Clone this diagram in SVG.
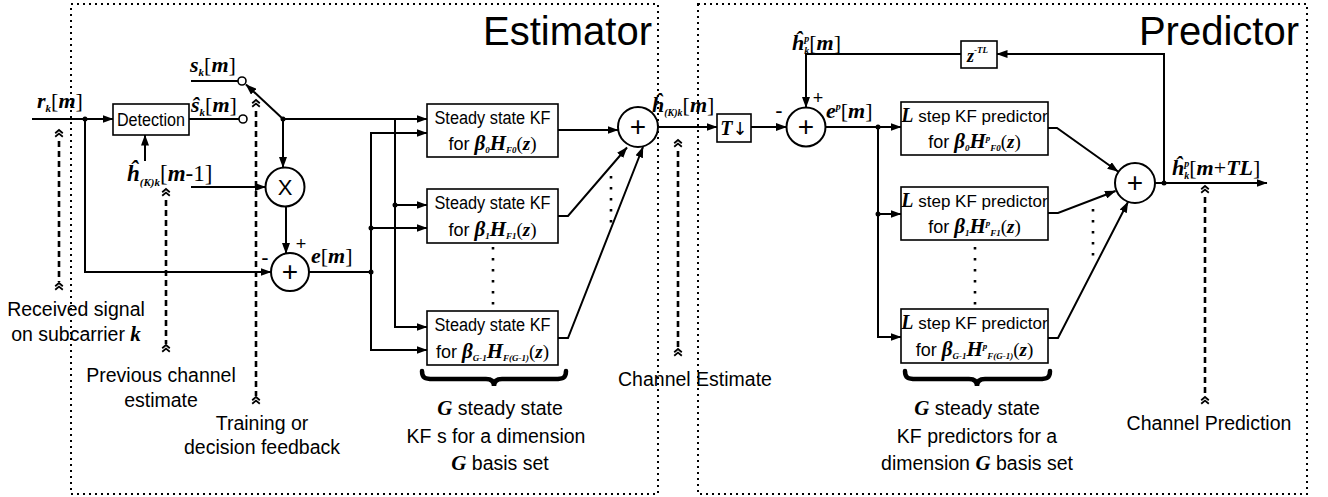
<svg xmlns="http://www.w3.org/2000/svg" xmlns:xlink="http://www.w3.org/1999/xlink" width="1328" height="497" viewBox="0 0 1328 497">
<style>
.frame{fill:none;stroke:#000;stroke-width:2;stroke-dasharray:2 4}
.box{fill:#fff;stroke:#000;stroke-width:1.6}
.ln{fill:none;stroke:#000;stroke-width:2}
.arr{marker-end:url(#ah)}
.dash{fill:none;stroke:#000;stroke-width:2.6;stroke-dasharray:6 4}
.dots{fill:none;stroke:#000;stroke-width:2.6;stroke-dasharray:2.5 8.5}
.chev{fill:none;stroke:#000;stroke-width:1.8}
.jn{fill:#000}
.oc{fill:#fff;stroke:#000;stroke-width:1.6}
.sum{fill:#fff;stroke:#000;stroke-width:2}
.brace{fill:none;stroke:#000;stroke-width:4.5;stroke-linecap:round}
.sans{font-family:"Liberation Sans",Arial,Helvetica,sans-serif;fill:#000}
.m{font-family:"Liberation Serif","Times New Roman",serif;font-style:italic;font-weight:bold;fill:#000}
.r{font-style:normal;font-weight:normal}
.lbl{font-size:19.5px}
.bt{font-size:18px}
.pt{font-size:17px}
</style>
<defs>
<marker id="ah" markerUnits="userSpaceOnUse" markerWidth="11" markerHeight="8" refX="10.5" refY="4" orient="auto">
<path d="M0,0 L11,4 L0,8 z" fill="#000"/>
</marker>
<path id="chev" class="chev" d="M-3.8,3.2 L0,0 L3.8,3.2 M-3.8,6.8 L0,3.6 L3.8,6.8"/>
</defs>

<!-- frames -->
<g id="estimator-frame">
<rect class="frame" x="71" y="4" width="587" height="490"/>
<text class="sans" x="652" y="45" font-size="40" text-anchor="end">Estimator</text>
</g>
<g id="predictor-frame">
<rect class="frame" x="698" y="4" width="609" height="490"/>
<text class="sans" x="1299" y="45" font-size="40" text-anchor="end">Predictor</text>
</g>

<!-- connectors -->
<g id="connectors">
<path class="ln arr" d="M32,119 H113"/>
<path class="ln arr" d="M85,119 V272 H271"/>
<path class="ln" d="M189,119 H239"/>
<path class="ln" d="M191,81 H238"/>
<path class="ln arr" d="M283,119 L246,84.5"/>
<path class="ln arr" d="M283,119 H427"/>
<path class="ln arr" d="M283,119 V167.5"/>
<path class="ln arr" d="M191,187 H265.5"/>
<path class="ln arr" d="M145,161 V135"/>
<path class="ln arr" d="M286,206.5 V253.5"/>
<path class="ln" d="M309,272 H371"/>
<path class="ln arr" d="M371,228 V133 H427"/>
<path class="ln arr" d="M371,228 H427"/>
<path class="ln arr" d="M371,228 V350 H427"/>
<path class="ln" d="M395,119 V205"/>
<path class="ln arr" d="M395,205 H427"/>
<path class="ln arr" d="M395,205 V327 H427"/>
<path class="ln arr" d="M558,130 H618"/>
<path class="ln arr" d="M558,216 H568 L627,147.5"/>
<path class="ln arr" d="M558,338 H568 L643,147"/>
<path class="ln arr" d="M658,127 H717"/>
<path class="ln arr" d="M751,127 H786.5"/>
<path class="ln arr" d="M1164,183 V54 H997"/>
<path class="ln arr" d="M961,54 H806 V107.5"/>
<path class="ln arr" d="M825.5,127 H901"/>
<path class="ln arr" d="M878,127 V214 H901"/>
<path class="ln arr" d="M878,214 V337 H901"/>
<path class="ln arr" d="M1048,128 H1057 L1118,171.5"/>
<path class="ln arr" d="M1048,213 H1058 L1115.5,191"/>
<path class="ln arr" d="M1048,338 H1058 L1128,202"/>
<path class="ln arr" d="M1155,183 H1267"/>
<circle class="jn" cx="85" cy="119" r="2.5"/>
<circle class="jn" cx="283" cy="119" r="2.5"/>
<circle class="jn" cx="371" cy="228" r="2.5"/>
<circle class="jn" cx="371" cy="272" r="2.5"/>
<circle class="jn" cx="395" cy="205" r="2.5"/>
<circle class="jn" cx="878" cy="127" r="2.5"/>
<circle class="jn" cx="878" cy="214" r="2.5"/>
<circle class="jn" cx="1164" cy="183" r="2.5"/>
<path class="dots" d="M493,247 V306"/>
<path class="dots" d="M611,176 V229"/>
<path class="dots" d="M975,247 V306"/>
<path class="dots" d="M1093,209 V258"/>
</g>

<!-- switch contacts -->
<g id="switch">
<circle class="oc" cx="242" cy="81" r="4"/>
<circle class="oc" cx="243" cy="119" r="4"/>
</g>

<!-- signal labels -->
<g id="labels">
<text class="m" x="37" y="108" font-size="22">r<tspan font-size="11" dy="4">k</tspan><tspan class="r" dy="-4">[</tspan>m<tspan class="r">]</tspan></text>
<text class="m" x="190" y="72" font-size="22">s<tspan font-size="11" dy="4">k</tspan><tspan class="r" dy="-4">[</tspan>m<tspan class="r">]</tspan></text>
<text class="m" x="191" y="112" font-size="22">ŝ<tspan font-size="11" dy="4">k</tspan><tspan class="r" dy="-4">[</tspan>m<tspan class="r">]</tspan></text>
<text class="m" x="127" y="181" font-size="23">ĥ<tspan font-size="11" dy="5">(K)k</tspan><tspan class="r" dy="-5">[</tspan>m<tspan class="r">-1]</tspan></text>
<text class="m" x="311" y="263" font-size="22">e<tspan class="r">[</tspan>m<tspan class="r">]</tspan></text>
<text class="sans" x="301" y="250" font-size="18" text-anchor="middle">+</text>
<text class="sans" x="265" y="265" font-size="22" text-anchor="middle">-</text>
<text class="m" x="652" y="112" font-size="22">ĥ<tspan font-size="10" dy="4">(K)k</tspan><tspan class="r" dy="-4">[</tspan>m<tspan class="r">]</tspan></text>
<text class="sans" x="779" y="118" font-size="22" text-anchor="middle">-</text>
<text class="sans" x="818" y="104" font-size="18" text-anchor="middle">+</text>
<text class="m" x="826" y="118" font-size="22">e<tspan font-size="10" dy="-8">p</tspan><tspan class="r" dy="8">[</tspan>m<tspan class="r">]</tspan></text>
<text class="m" x="792" y="50" font-size="22">ĥ<tspan font-size="10" dy="4">k</tspan><tspan font-size="10" dx="-5" dy="-12">p</tspan><tspan class="r" dy="8">[</tspan>m<tspan class="r">]</tspan></text>
<text class="m" x="1172" y="175" font-size="22">ĥ<tspan font-size="10" dy="4">k</tspan><tspan font-size="10" dx="-5" dy="-12">p</tspan><tspan class="r" dy="8">[</tspan>m<tspan class="r">+</tspan>TL<tspan class="r">]</tspan></text>
</g>

<!-- dashed annotation pointers -->
<g id="pointers">
<use xlink:href="#chev" href="#chev" x="59" y="130"/>
<path class="dash" d="M59,141 V282"/>
<use xlink:href="#chev" href="#chev" x="59" y="283"/>
<use xlink:href="#chev" href="#chev" x="166" y="189"/>
<path class="dash" d="M166,200 V344"/>
<use xlink:href="#chev" href="#chev" x="166" y="345"/>
<use xlink:href="#chev" href="#chev" x="256" y="100"/>
<path class="dash" d="M256,111 V396"/>
<use xlink:href="#chev" href="#chev" x="256" y="397"/>
<use xlink:href="#chev" href="#chev" x="678" y="140"/>
<path class="dash" d="M678,151 V348"/>
<use xlink:href="#chev" href="#chev" x="678" y="349"/>
<use xlink:href="#chev" href="#chev" x="1205" y="186"/>
<path class="dash" d="M1205,197 V396"/>
<use xlink:href="#chev" href="#chev" x="1205" y="397"/>
<text class="sans lbl" x="76" y="316" text-anchor="middle">Received signal</text>
<text class="sans lbl" x="76" y="341" text-anchor="middle">on subcarrier <tspan class="m" font-size="21">k</tspan></text>
<text class="sans lbl" x="161" y="382" text-anchor="middle">Previous channel</text>
<text class="sans lbl" x="161" y="407" text-anchor="middle">estimate</text>
<text class="sans lbl" x="262" y="430" text-anchor="middle">Training or</text>
<text class="sans lbl" x="262" y="454" text-anchor="middle">decision feedback</text>
<text class="sans lbl" x="695" y="386" text-anchor="middle">Channel Estimate</text>
<text class="sans lbl" x="1209" y="430" text-anchor="middle">Channel Prediction</text>
</g>

<!-- nodes -->
<g id="detection">
<rect class="box" x="113" y="104" width="76" height="31"/>
<text class="sans bt" x="151" y="126" text-anchor="middle" textLength="68" lengthAdjust="spacingAndGlyphs">Detection</text>
</g>
<g id="multiplier">
<circle class="sum" cx="285" cy="187" r="19.5"/>
<text class="sans" x="285" y="195" font-size="22" text-anchor="middle">X</text>
</g>
<g id="error-sum">
<circle class="sum" cx="290" cy="272" r="19"/>
<text class="sans" x="290" y="281" font-size="28" text-anchor="middle">+</text>
</g>
<g id="kf0">
<rect class="box" x="427" y="104" width="131" height="53"/>
<text class="sans bt" x="492.5" y="124" text-anchor="middle" textLength="116" lengthAdjust="spacingAndGlyphs">Steady state KF</text>
<text class="sans bt" x="492.5" y="150" text-anchor="middle">for <tspan class="m" font-size="21">β</tspan><tspan class="m" font-size="9" dy="3">0</tspan><tspan class="m" font-size="21" dy="-3">H</tspan><tspan class="m" font-size="9" dy="3">F0</tspan><tspan class="m" font-size="19" dy="-3"><tspan class="r">(</tspan>z<tspan class="r">)</tspan></tspan></text>
</g>
<g id="kf1">
<rect class="box" x="427" y="189" width="131" height="54"/>
<text class="sans bt" x="492.5" y="209" text-anchor="middle" textLength="116" lengthAdjust="spacingAndGlyphs">Steady state KF</text>
<text class="sans bt" x="492.5" y="236" text-anchor="middle">for <tspan class="m" font-size="21">β</tspan><tspan class="m" font-size="9" dy="3">1</tspan><tspan class="m" font-size="21" dy="-3">H</tspan><tspan class="m" font-size="9" dy="3">F1</tspan><tspan class="m" font-size="19" dy="-3"><tspan class="r">(</tspan>z<tspan class="r">)</tspan></tspan></text>
</g>
<g id="kfG">
<rect class="box" x="427" y="311" width="131" height="54"/>
<text class="sans bt" x="492.5" y="331" text-anchor="middle" textLength="116" lengthAdjust="spacingAndGlyphs">Steady state KF</text>
<text class="sans bt" x="492.5" y="358" text-anchor="middle">for <tspan class="m" font-size="21">β</tspan><tspan class="m" font-size="9" dy="3">G-1</tspan><tspan class="m" font-size="21" dy="-3">H</tspan><tspan class="m" font-size="9" dy="3">F(G-1)</tspan><tspan class="m" font-size="19" dy="-3"><tspan class="r">(</tspan>z<tspan class="r">)</tspan></tspan></text>
</g>
<g id="est-brace">
<path class="brace" d="M422,371 C422,378 425,379 433,379 L486,379 C491,379 494,381 494,386 C494,381 497,379 502,379 L555,379 C563,379 566,378 566,371"/>
<text class="sans lbl" x="500" y="415" text-anchor="middle"><tspan class="m" font-size="21">G</tspan> steady state</text>
<text class="sans lbl" x="496" y="443" text-anchor="middle">KF s for a dimension</text>
<text class="sans lbl" x="500" y="470" text-anchor="middle"><tspan class="m" font-size="21">G</tspan> basis set</text>
</g>
<g id="est-sum">
<circle class="sum" cx="638" cy="127" r="20"/>
<text class="sans" x="638" y="136" font-size="28" text-anchor="middle">+</text>
</g>
<g id="downsample">
<rect class="box" x="717" y="114" width="34" height="28"/>
<text class="m" x="734" y="135" font-size="20" text-anchor="middle">T<tspan class="r" font-family="DejaVu Sans, sans-serif" font-size="18">↓</tspan></text>
</g>
<g id="pred-err-sum">
<circle class="sum" cx="806" cy="127" r="19.5"/>
<text class="sans" x="806" y="136" font-size="28" text-anchor="middle">+</text>
</g>
<g id="delay">
<rect class="box" x="961" y="41" width="36" height="27"/>
<text class="m" x="967" y="62" font-size="18">z<tspan class="r" font-size="9" dy="-9">-</tspan><tspan font-size="9">TL</tspan></text>
</g>
<g id="pkf0">
<rect class="box" x="901" y="102" width="147" height="53"/>
<text class="sans pt" x="974.5" y="122" text-anchor="middle"><tspan class="m" font-size="20">L</tspan> step KF predictor</text>
<text class="sans bt" x="974.5" y="148" text-anchor="middle">for <tspan class="m" font-size="21">β</tspan><tspan class="m" font-size="9" dy="3">0</tspan><tspan class="m" font-size="21" dy="-3">H</tspan><tspan class="m" font-size="9" dy="-7">p</tspan><tspan class="m" font-size="9" dy="10">F0</tspan><tspan class="m" font-size="19" dy="-3"><tspan class="r">(</tspan>z<tspan class="r">)</tspan></tspan></text>
</g>
<g id="pkf1">
<rect class="box" x="901" y="187" width="147" height="53"/>
<text class="sans pt" x="974.5" y="207" text-anchor="middle"><tspan class="m" font-size="20">L</tspan> step KF predictor</text>
<text class="sans bt" x="974.5" y="233" text-anchor="middle">for <tspan class="m" font-size="21">β</tspan><tspan class="m" font-size="9" dy="3">1</tspan><tspan class="m" font-size="21" dy="-3">H</tspan><tspan class="m" font-size="9" dy="-7">p</tspan><tspan class="m" font-size="9" dy="10">F1</tspan><tspan class="m" font-size="19" dy="-3"><tspan class="r">(</tspan>z<tspan class="r">)</tspan></tspan></text>
</g>
<g id="pkfG">
<rect class="box" x="901" y="309" width="147" height="54"/>
<text class="sans pt" x="974.5" y="329" text-anchor="middle"><tspan class="m" font-size="20">L</tspan> step KF predictor</text>
<text class="sans bt" x="974.5" y="356" text-anchor="middle">for <tspan class="m" font-size="21">β</tspan><tspan class="m" font-size="9" dy="3">G-1</tspan><tspan class="m" font-size="21" dy="-3">H</tspan><tspan class="m" font-size="9" dy="-7">p</tspan><tspan class="m" font-size="9" dy="10">F(G-1)</tspan><tspan class="m" font-size="19" dy="-3"><tspan class="r">(</tspan>z<tspan class="r">)</tspan></tspan></text>
</g>
<g id="pred-brace">
<path class="brace" d="M905,371 C905,378 908,379 916,379 L969,379 C974,379 977,381 977,386 C977,381 980,379 985,379 L1039,379 C1047,379 1050,378 1050,371"/>
<text class="sans lbl" x="977" y="415" text-anchor="middle"><tspan class="m" font-size="21">G</tspan> steady state</text>
<text class="sans lbl" x="977" y="443" text-anchor="middle">KF predictors for a</text>
<text class="sans lbl" x="977" y="470" text-anchor="middle">dimension <tspan class="m" font-size="21">G</tspan> basis set</text>
</g>
<g id="pred-sum">
<circle class="sum" cx="1135" cy="183" r="20"/>
<text class="sans" x="1135" y="192" font-size="28" text-anchor="middle">+</text>
</g>
</svg>
